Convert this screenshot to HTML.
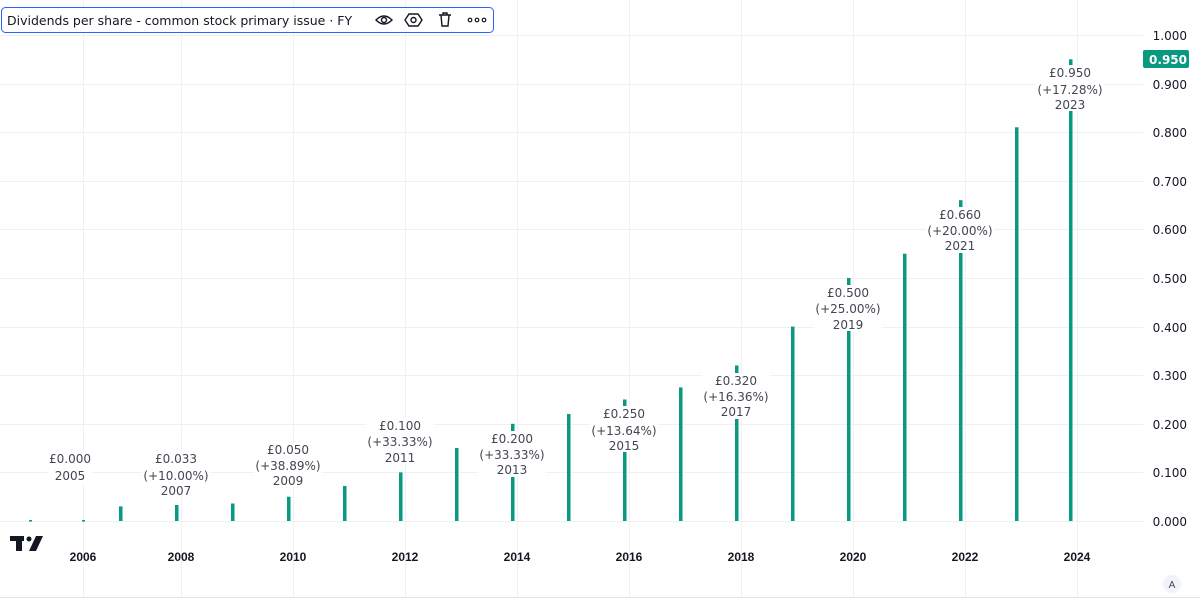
<!DOCTYPE html>
<html><head><meta charset="utf-8"><style>
body{margin:0;background:#fff;}
svg{display:block;font-family:"Liberation Sans","DejaVu Sans",sans-serif;}
.dv{font-family:"DejaVu Sans","Liberation Sans",sans-serif;}
</style></head><body>
<svg width="1200" height="613" viewBox="0 0 1200 613" xmlns="http://www.w3.org/2000/svg">
<g stroke="#eef0f5" stroke-width="1">
<line x1="0" y1="35.5" x2="1143" y2="35.5"/><line x1="0" y1="84.5" x2="1143" y2="84.5"/>
<line x1="0" y1="132.5" x2="1143" y2="132.5"/><line x1="0" y1="181.5" x2="1143" y2="181.5"/>
<line x1="0" y1="229.5" x2="1143" y2="229.5"/><line x1="0" y1="278.5" x2="1143" y2="278.5"/>
<line x1="0" y1="327.5" x2="1143" y2="327.5"/><line x1="0" y1="375.5" x2="1143" y2="375.5"/>
<line x1="0" y1="424.5" x2="1143" y2="424.5"/><line x1="0" y1="472.5" x2="1143" y2="472.5"/>
<line x1="0" y1="521.5" x2="1143" y2="521.5"/>
<line x1="83.5" y1="0" x2="83.5" y2="597"/><line x1="181.5" y1="0" x2="181.5" y2="597"/>
<line x1="293.5" y1="0" x2="293.5" y2="597"/><line x1="405.5" y1="0" x2="405.5" y2="597"/>
<line x1="517.5" y1="0" x2="517.5" y2="597"/><line x1="629.5" y1="0" x2="629.5" y2="597"/>
<line x1="741.5" y1="0" x2="741.5" y2="597"/><line x1="853.5" y1="0" x2="853.5" y2="597"/>
<line x1="965.5" y1="0" x2="965.5" y2="597"/><line x1="1077.5" y1="0" x2="1077.5" y2="597"/>
</g>
<line x1="0" y1="597.5" x2="1200" y2="597.5" stroke="#e0e3eb"/>
<g fill="#089981">
<rect x="29" y="520" width="3" height="1.5"/><rect x="82" y="520" width="3" height="1.5"/>
<rect x="119" y="506.4" width="3.5" height="14.6"/>
<rect x="175" y="505" width="3.5" height="16"/>
<rect x="231" y="503.5" width="3.5" height="17.5"/>
<rect x="287" y="496.7" width="3.5" height="24.3"/>
<rect x="343" y="486" width="3.5" height="35"/>
<rect x="399" y="472.4" width="3.5" height="48.6"/>
<rect x="455" y="448" width="3.5" height="73"/>
<rect x="511" y="423.8" width="3.5" height="97.2"/>
<rect x="567" y="414" width="3.5" height="107"/>
<rect x="623" y="399.5" width="3.5" height="121.5"/>
<rect x="679" y="387.4" width="3.5" height="133.6"/>
<rect x="735" y="365.5" width="3.5" height="155.5"/>
<rect x="791" y="326.6" width="3.5" height="194.4"/>
<rect x="847" y="278" width="3.5" height="243"/>
<rect x="903" y="253.7" width="3.5" height="267.3"/>
<rect x="959" y="200.2" width="3.5" height="320.8"/>
<rect x="1015" y="127.3" width="3.5" height="393.7"/>
<rect x="1069" y="59.3" width="3.5" height="461.7"/>
</g>
<g class="dv" font-size="12" fill="#434651" text-anchor="middle">
<g><rect x="48" y="450" width="44" height="34" fill="#fff"/><text x="70" y="463">£0.000</text><text x="70" y="480">2005</text></g>
<g><rect x="142" y="451" width="68" height="46" fill="#fff"/><text x="176" y="463">£0.033</text><text x="176" y="480">(+10.00%)</text><text x="176" y="495">2007</text></g>
<g><rect x="254" y="442" width="68" height="46" fill="#fff"/><text x="288" y="454">£0.050</text><text x="288" y="470">(+38.89%)</text><text x="288" y="485">2009</text></g>
<g><rect x="366" y="418" width="68" height="46" fill="#fff"/><text x="400" y="430">£0.100</text><text x="400" y="446">(+33.33%)</text><text x="400" y="462">2011</text></g>
<g><rect x="478" y="431" width="68" height="46" fill="#fff"/><text x="512" y="443">£0.200</text><text x="512" y="459">(+33.33%)</text><text x="512" y="474">2013</text></g>
<g><rect x="590" y="406" width="68" height="46" fill="#fff"/><text x="624" y="418">£0.250</text><text x="624" y="435">(+13.64%)</text><text x="624" y="450">2015</text></g>
<g><rect x="702" y="373" width="68" height="46" fill="#fff"/><text x="736" y="385">£0.320</text><text x="736" y="401">(+16.36%)</text><text x="736" y="416">2017</text></g>
<g><rect x="814" y="285" width="68" height="46" fill="#fff"/><text x="848" y="297">£0.500</text><text x="848" y="313">(+25.00%)</text><text x="848" y="329">2019</text></g>
<g><rect x="926" y="207" width="68" height="46" fill="#fff"/><text x="960" y="219">£0.660</text><text x="960" y="235">(+20.00%)</text><text x="960" y="250">2021</text></g>
<g><rect x="1036" y="65" width="68" height="46" fill="#fff"/><text x="1070" y="77">£0.950</text><text x="1070" y="94">(+17.28%)</text><text x="1070" y="109">2023</text></g>
</g>
<g class="dv" font-size="12" fill="#131722" text-anchor="end">
<text x="1187" y="40">1.000</text><text x="1187" y="89">0.900</text><text x="1187" y="137">0.800</text>
<text x="1187" y="186">0.700</text><text x="1187" y="234">0.600</text><text x="1187" y="283">0.500</text>
<text x="1187" y="332">0.400</text><text x="1187" y="380">0.300</text><text x="1187" y="429">0.200</text>
<text x="1187" y="477">0.100</text><text x="1187" y="526">0.000</text>
</g>
<rect x="1143" y="50" width="46" height="18" rx="2" fill="#089981"/>
<text class="dv" x="1187" y="64" font-size="12" font-weight="bold" fill="#fff" text-anchor="end">0.950</text>
<g font-size="12" font-weight="bold" fill="#131722" text-anchor="middle">
<text x="83" y="561">2006</text><text x="181" y="561">2008</text><text x="293" y="561">2010</text>
<text x="405" y="561">2012</text><text x="517" y="561">2014</text><text x="629" y="561">2016</text>
<text x="741" y="561">2018</text><text x="853" y="561">2020</text><text x="965" y="561">2022</text>
<text x="1077" y="561">2024</text>
</g>
<circle cx="1172" cy="584" r="9" fill="#f0f3fa"/>
<text x="1172" y="588" font-size="10" fill="#434651" text-anchor="middle">A</text>
<g fill="#131722">
<rect x="10" y="536" width="14" height="5"/><rect x="16" y="536" width="6" height="15"/>
<circle cx="29" cy="539" r="2.5"/><polygon points="36,536 43,536 36,551 29,551"/>
</g>
<rect x="1.5" y="7.5" width="492" height="25" rx="4" fill="#fff" stroke="#2962ff"/>
<text class="dv" x="7" y="25" font-size="12.5" fill="#131722">Dividends per share - common stock primary issue · FY</text>
<g fill="none" stroke="#131722" stroke-width="1.4">
<path d="M376 20 q8 -8 16 0 q-8 8 -16 0z"/><circle cx="384" cy="20" r="2.5"/>
<polygon points="409,14 418,14 422,20 418,26 409,26 405,20"/><circle cx="413.5" cy="20" r="2.5"/>
<path d="M439 15 h12 M443 15 v-2 h4 v2 M441 15 l1 11 h6 l1 -11"/>
</g>
<g fill="none" stroke="#131722" stroke-width="1.2"><circle cx="470" cy="20" r="1.8"/><circle cx="477" cy="20" r="1.8"/><circle cx="484" cy="20" r="1.8"/></g>
</svg>
</body></html>
